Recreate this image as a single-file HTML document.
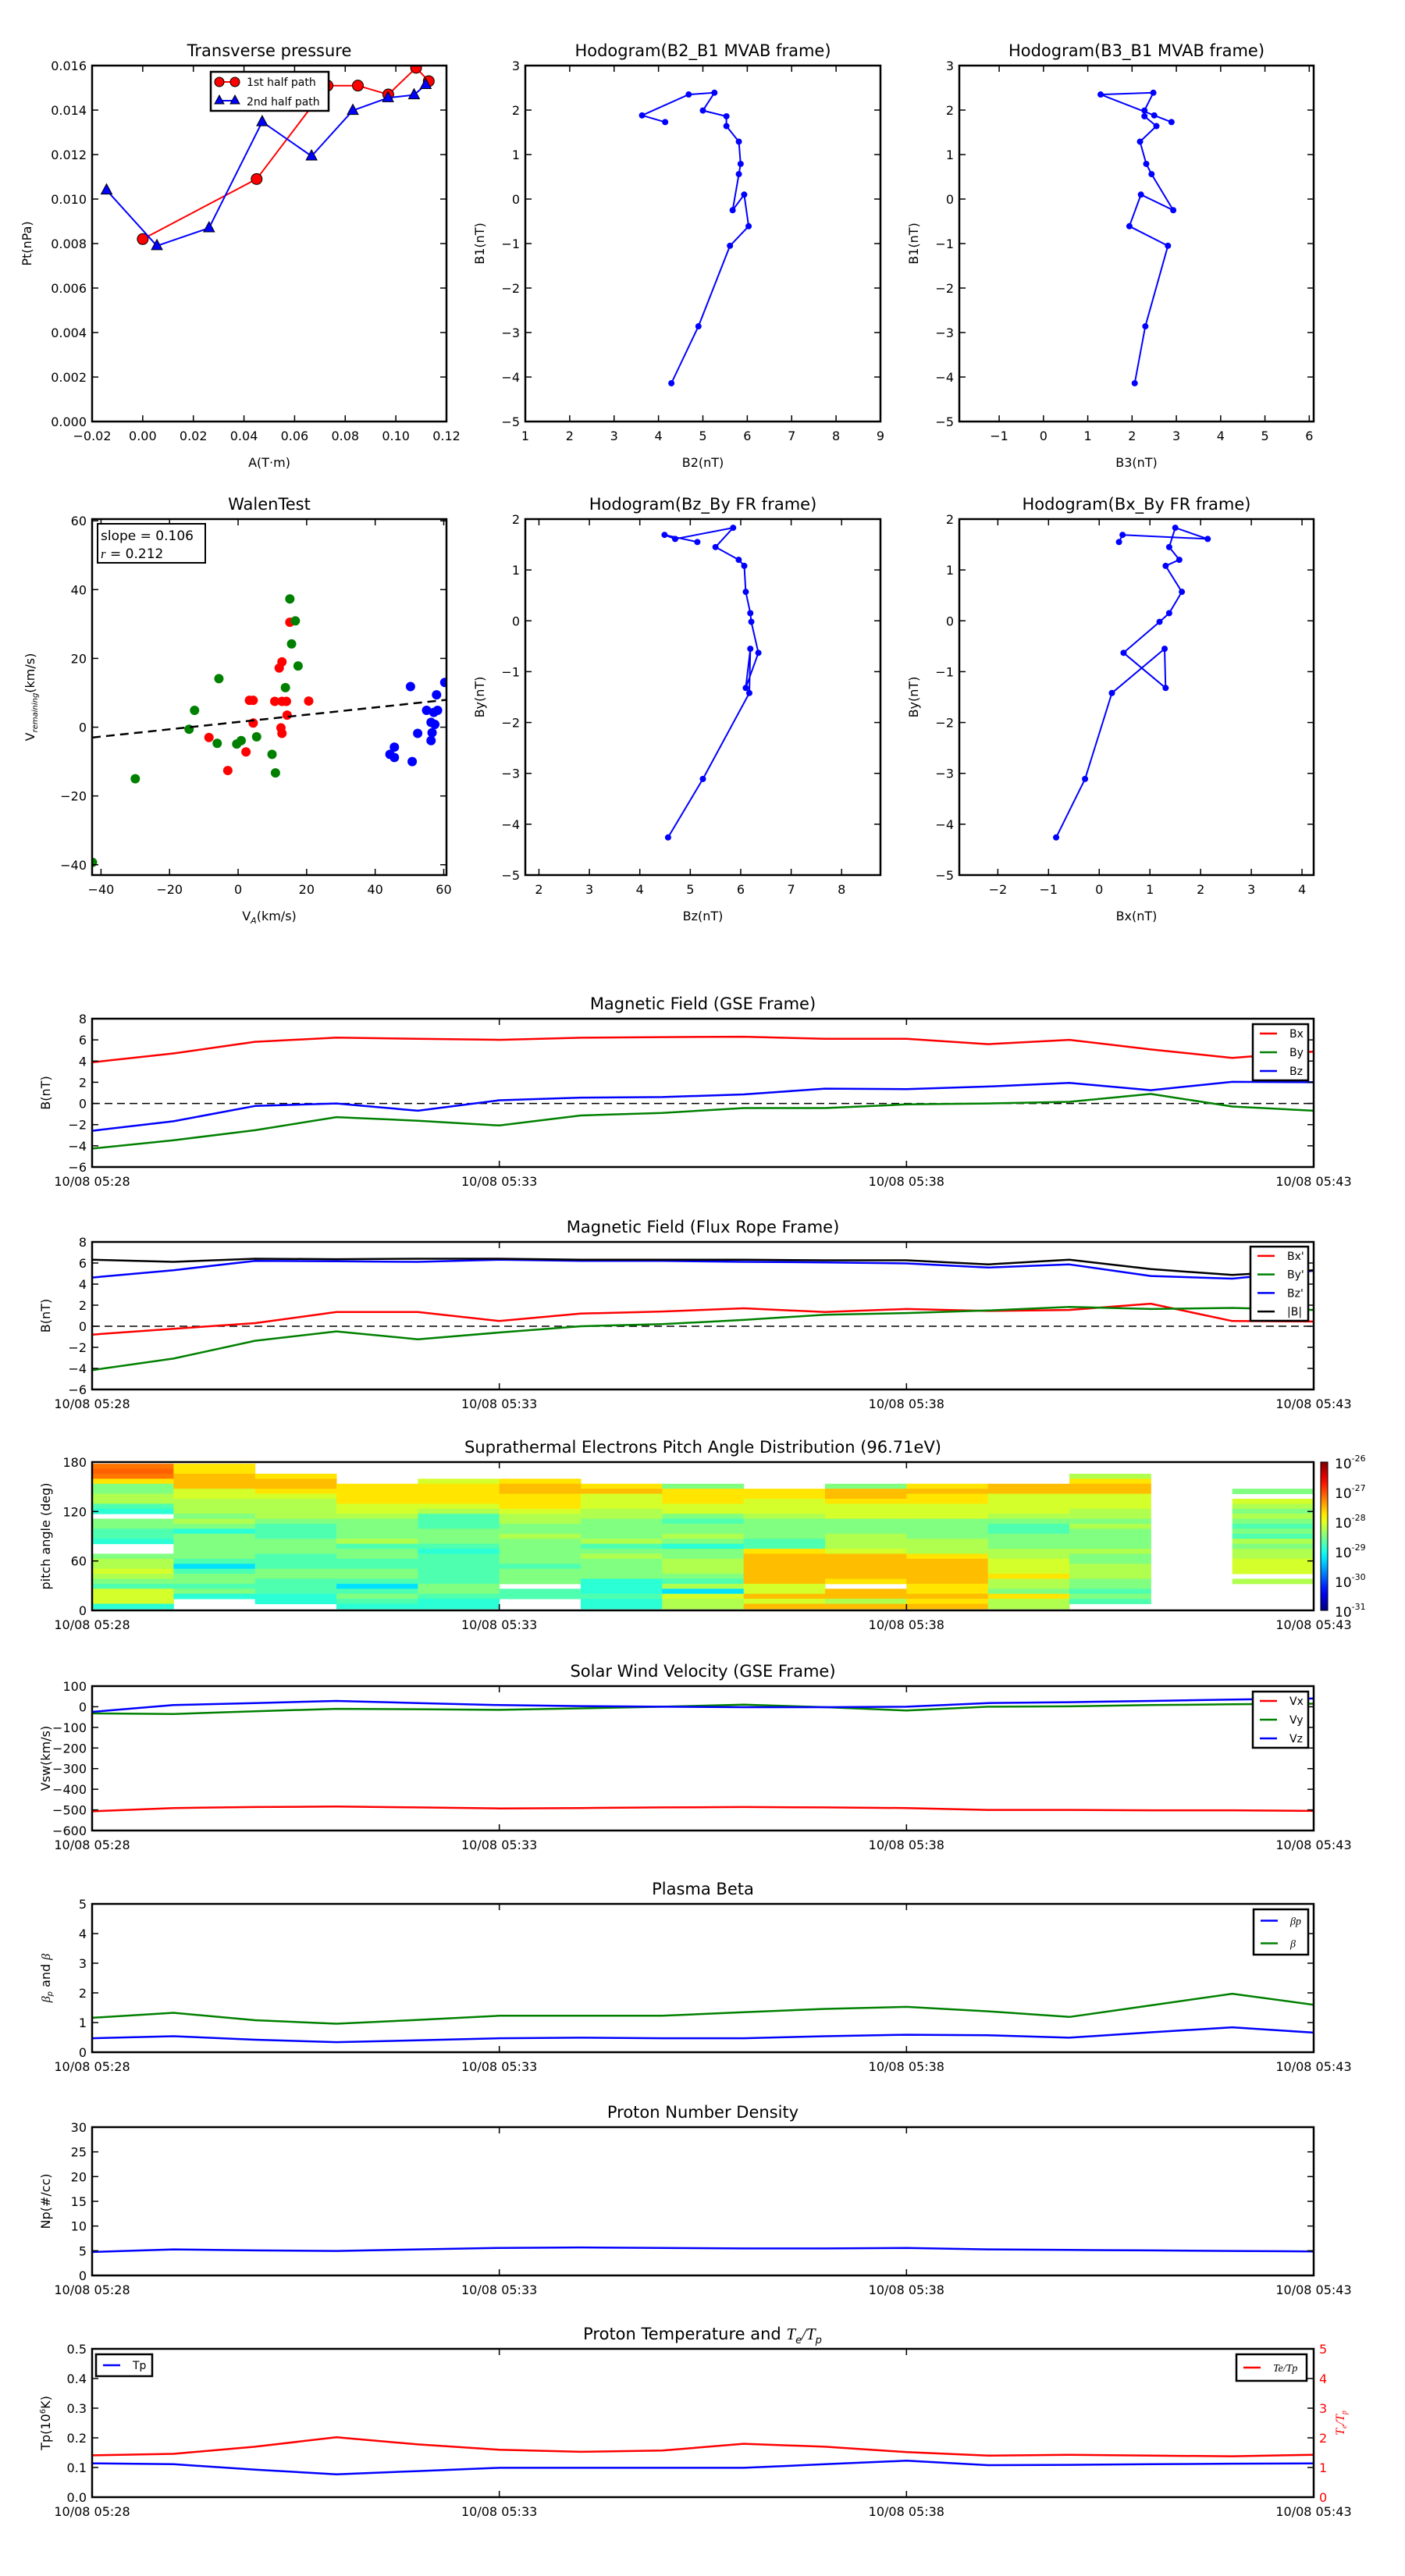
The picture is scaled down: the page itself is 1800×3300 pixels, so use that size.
<!DOCTYPE html>
<html><head><meta charset="utf-8"><title>Flux rope analysis</title>
<style>html,body{margin:0;padding:0;background:#fff}svg{display:block}</style>
</head><body>
<svg id="fig" xmlns="http://www.w3.org/2000/svg" width="1800" height="3300" viewBox="0 0 1800 3300">
<rect x="0" y="0" width="1800" height="3300" fill="#fff"/>
</svg>
<script>
// ---------- data ----------
const ptRedA = [0.000, 0.045, 0.073, 0.085, 0.097, 0.108, 0.113];
const ptRedPt = [0.0082, 0.0109, 0.0151, 0.0151, 0.0147, 0.0159, 0.0153];
const ptBlueA = [-0.0143, 0.0056, 0.0262, 0.0472, 0.0667, 0.083, 0.0969, 0.1072, 0.1118];
const ptBluePt = [0.0104, 0.0079, 0.0087, 0.01347, 0.01193, 0.01398, 0.01455, 0.01468, 0.01514];

const mvB1 = [1.73, 1.88, 2.35, 2.39, 1.99, 1.86, 1.64, 1.29, 0.79, 0.56, -0.25, 0.10, -0.61, -1.05, -2.86, -4.14];
const mvB2 = [4.15, 3.63, 4.68, 5.26, 5.0, 5.53, 5.53, 5.81, 5.85, 5.81, 5.67, 5.93, 6.03, 5.61, 4.9, 4.29];
const mvB3 = [2.89, 2.5, 1.29, 2.48, 2.28, 2.28, 2.55, 2.18, 2.32, 2.44, 2.93, 2.2, 1.94, 2.81, 2.3, 2.06];

const frBy = [1.55, 1.69, 1.61, 1.83, 1.45, 1.20, 1.08, 0.57, 0.15, -0.02, -0.63, -1.32, -0.55, -1.42, -3.11, -4.26];
const frBz = [5.14, 4.49, 4.70, 5.85, 5.5, 5.96, 6.07, 6.10, 6.19, 6.21, 6.35, 6.10, 6.19, 6.17, 5.25, 4.56];
const frBx = [0.39, 0.46, 2.14, 1.5, 1.38, 1.58, 1.31, 1.63, 1.38, 1.19, 0.48, 1.31, 1.29, 0.25, -0.28, -0.85];

const walenRedX = [15.1, 12.8, 12.0, 3.3, 4.4, 10.7, 12.8, 14.1, 20.6, 14.3, 4.4, 12.5, 12.8, -8.5, 2.3, -3.0];
const walenRedY = [30.5, 19.0, 17.2, 7.8, 7.8, 7.5, 7.5, 7.5, 7.6, 3.5, 1.2, -0.2, -1.8, -3.0, -7.2, -12.6];
const walenGreenX = [15.1, 16.7, 15.6, 17.5, 13.8, -5.6, -12.7, -14.3, -6.1, -0.4, 0.9, 5.4, 9.9, 10.9, -30, -42.5];
const walenGreenY = [37.3, 30.9, 24.2, 17.8, 11.5, 14.1, 4.9, -0.6, -4.7, -4.9, -3.9, -2.8, -7.9, -13.3, -15, -39.3];
const walenBlueX = [50.3, 57.9, 60.3, 55, 57.1, 58.2, 56.3, 57.4, 52.4, 56.6, 56.3, 45.6, 44.3, 45.6, 50.8];
const walenBlueY = [11.8, 9.4, 13, 4.9, 4.3, 4.9, 1.4, 0.8, -1.8, -1.6, -3.9, -5.8, -7.9, -8.8, -10];
const walenFit = [0.106, 1.5];

const timeMin = [0, 1, 2, 3, 4, 5, 6, 7, 8, 9, 10, 11, 12, 13, 14, 15];
const timeTickMin = [0, 5, 10, 15];
const timeTickLabels = ["10/08 05:28", "10/08 05:33", "10/08 05:38", "10/08 05:43"];

const gseBx = [3.88, 4.72, 5.82, 6.21, 6.1, 6.0, 6.2, 6.26, 6.3, 6.1, 6.1, 5.6, 6.0, 5.1, 4.3, 4.9];
const gseBy = [-4.26, -3.47, -2.53, -1.29, -1.63, -2.08, -1.14, -0.89, -0.44, -0.44, -0.09, 0.0, 0.15, 0.9, -0.29, -0.69];
const gseBz = [-2.58, -1.68, -0.24, 0.0, -0.69, 0.3, 0.55, 0.6, 0.85, 1.4, 1.35, 1.6, 1.94, 1.25, 2.04, 2.0];

const frpBx = [-0.79, -0.24, 0.30, 1.35, 1.35, 0.5, 1.2, 1.4, 1.7, 1.35, 1.64, 1.45, 1.55, 2.14, 0.5, 0.45];
const frpBy = [-4.16, -3.07, -1.38, -0.49, -1.24, -0.59, 0.0, 0.2, 0.6, 1.1, 1.25, 1.5, 1.84, 1.64, 1.74, 1.55];
const frpBz = [4.62, 5.32, 6.21, 6.16, 6.11, 6.31, 6.21, 6.21, 6.11, 6.06, 5.96, 5.57, 5.87, 4.77, 4.52, 5.27];
const frpBt = [6.31, 6.11, 6.41, 6.36, 6.41, 6.41, 6.31, 6.31, 6.31, 6.26, 6.26, 5.87, 6.31, 5.42, 4.87, 5.32];

// pitch angle distribution: one string per minute column, 29 bins from 178° down to 1°
const padCodeValues = {R: -27.1, O: -27.2, o: -27.55, Y: -27.75, y: -28.08, g: -28.26, G: -28.5, t: -28.74, c: -28.92, C: -29.27};
const padColumns = [
 "OROYGGggtc_GGttc__GggygGtyyyc",
 "YYoooyygggGgGcGGGGGtCtGGtGc__",
 "__YooYyggggGtttGGGtttGGtttcc_",
 "____YYYYyygGGGGgtGGttGGtCtGtc",
 "___yYYYYygtttGGGtcttttttGGtcc",
 "___YooYYYyggGGgGGGGGtGGG_tt__",
 "____YoyyyggGGGGgtGgGGGGccctcc",
 "____GYYYyyGtGGgGcGGgggGtgCygg",
 "_____YYyyygGGGGttYooooooyyoyo",
 "____GooYyyyGGGgggyoooooY_oogo",
 "____YoYYyyyGGGGgggYoooooYYoYo",
 "____ooyyyygGttGGGggyyyYggGYgg",
 "__gYooyyyggGgGGGGgGGgggGGtGt_",
 "_____________________________",
 "_____G_ygGgGtGtgGggyyy_g_____"
];
const padBinTop = 178, padBinHeight = 6.07;

const swVx = [-507, -491, -486, -484, -488, -493, -491, -488, -486, -488, -491, -500, -500, -502, -502, -505];
const swVy = [-32, -35, -22, -10, -12, -15, -8, 0, 10, -2, -18, 0, 2, 8, 12, 15];
const swVz = [-25, 8, 18, 28, 18, 8, 3, 0, -2, -2, 0, 18, 22, 28, 35, 40];

const betaP = [0.47, 0.54, 0.42, 0.34, 0.40, 0.47, 0.49, 0.47, 0.47, 0.54, 0.59, 0.57, 0.49, 0.67, 0.84, 0.66];
const betaAll = [1.16, 1.33, 1.08, 0.96, 1.09, 1.23, 1.23, 1.23, 1.35, 1.46, 1.53, 1.38, 1.19, 1.58, 1.97, 1.6];

const densNp = [4.76, 5.27, 5.07, 4.96, 5.27, 5.57, 5.67, 5.57, 5.47, 5.47, 5.57, 5.27, 5.17, 5.07, 4.96, 4.86];

const tempTp = [0.114, 0.111, 0.093, 0.077, 0.088, 0.099, 0.099, 0.099, 0.099, 0.111, 0.123, 0.108, 0.109, 0.111, 0.113, 0.114];
const tempRatio = [1.41, 1.46, 1.70, 2.02, 1.78, 1.60, 1.53, 1.57, 1.80, 1.70, 1.52, 1.40, 1.43, 1.40, 1.38, 1.43];

// ---------- drawing helpers ----------
const NS = 'http://www.w3.org/2000/svg';
const svg = document.getElementById('fig');
const FF = '"DejaVu Sans","Liberation Sans",sans-serif';

function mk(tag, attrs, parent) {
  const e = document.createElementNS(NS, tag);
  for (const k in attrs) e.setAttribute(k, attrs[k]);
  (parent || svg).appendChild(e);
  return e;
}
function txt(x, y, s, size, anchor, parent, extra) {
  const a = {x: x, y: y, 'font-size': size, 'text-anchor': anchor || 'middle', 'font-family': FF, fill: '#000'};
  if (extra) for (const k in extra) a[k] = extra[k];
  const e = mk('text', a, parent);
  e.textContent = s;
  return e;
}
function fmt(v, d) { return (v < -1e-12 ? '\u2212' : '') + Math.abs(v).toFixed(d); }

let clipN = 0;
function axes(c) {
  const g = mk('g', {});
  
  
  const sx = v => c.x0 + (v - c.xmin) / (c.xmax - c.xmin) * (c.x1 - c.x0);
  const sy = v => c.y1 - (v - c.ymin) / (c.ymax - c.ymin) * (c.y1 - c.y0);
  const id = 'clip' + (clipN++);
  const cp = mk('clipPath', {id: id}, g);
  mk('rect', {x: c.x0, y: c.y0, width: c.x1 - c.x0, height: c.y1 - c.y0}, cp);
  const plot = mk('g', {'clip-path': 'url(#' + id + ')'}, g);
  
  
  const fr = mk('g', {}, g);
  c.xticks.forEach((v, i) => {
    const X = sx(v);
    mk('line', {x1: X, x2: X, y1: c.y1, y2: c.y1 - 8, stroke: '#000', 'stroke-width': 1.5}, fr);
    mk('line', {x1: X, x2: X, y1: c.y0, y2: c.y0 + 8, stroke: '#000', 'stroke-width': 1.5}, fr);
    const t = txt(X, c.y1 + 24, c.xlabels[i], 16, 'middle', fr);
    
    
  });
  c.yticks.forEach((v, i) => {
    const Y = sy(v);
    mk('line', {x1: c.x0, x2: c.x0 + 8, y1: Y, y2: Y, stroke: '#000', 'stroke-width': 1.5}, fr);
    mk('line', {x1: c.x1, x2: c.x1 - 8, y1: Y, y2: Y, stroke: '#000', 'stroke-width': 1.5}, fr);
    const t = txt(c.x0 - 7, Y + 6, c.ylabels[i], 16, 'end', fr);
    
    
  });
  const rc = mk('rect', {x: c.x0, y: c.y0, width: c.x1 - c.x0, height: c.y1 - c.y0, fill: 'none', stroke: '#000', 'stroke-width': 2.5}, fr);
  
  
  const tt = txt((c.x0 + c.x1) / 2, c.y0 - 12, c.title, 21, 'middle', fr);
  
  
  if (c.xtitle) {
    const xt = txt((c.x0 + c.x1) / 2, c.y1 + 58, c.xtitle, 16, 'middle', fr);
    
    
  }
  if (c.ytitle) {
    const yx = c.ytitleX, yy = (c.y0 + c.y1) / 2;
    const yt = txt(yx, yy, c.ytitle, 16, 'middle', fr, {transform: 'rotate(-90 ' + yx + ' ' + yy + ')'});
    
    
  }
  return {sx: sx, sy: sy, plot: plot, fr: fr, c: c};
}
function line(ax, xs, ys, color, name, w) {
  const pts = xs.map((x, i) => ax.sx(x).toFixed(1) + ',' + ax.sy(ys[i]).toFixed(1)).join(' ');
  const p = mk('polyline', {points: pts, fill: 'none', stroke: color, 'stroke-width': w || 2.5, 'stroke-linejoin': 'round'}, ax.plot);
  
  
  return p;
}
function dots(ax, xs, ys, color, r, name, outline) {
  xs.forEach((x, i) => {
    const d = mk('circle', {cx: ax.sx(x), cy: ax.sy(ys[i]), r: r, fill: color, stroke: outline ? '#000' : 'none', 'stroke-width': 1}, ax.plot);
    
    
  });
}
function tris(ax, xs, ys, color, name) {
  xs.forEach((x, i) => {
    const X = ax.sx(x), Y = ax.sy(ys[i]);
    const d = mk('polygon', {points: `${X},${Y - 8} ${X - 7},${Y + 5} ${X + 7},${Y + 5}`, fill: color, stroke: '#000', 'stroke-width': 1}, ax.plot);
    
    
  });
}
function zeroLine(ax) {
  const z = mk('line', {x1: ax.c.x0, x2: ax.c.x1, y1: ax.sy(0), y2: ax.sy(0), stroke: '#000', 'stroke-width': 1.5, 'stroke-dasharray': '10,6'}, ax.plot);
  
  
}
function legend(x, y, w, h, entries, parent) {
  const g = mk('g', {}, parent);
  
  
  mk('rect', {x: x, y: y, width: w, height: h, fill: '#fff', stroke: '#000', 'stroke-width': 2.5}, g);
  const step = h / entries.length;
  entries.forEach((e, i) => {
    const Y = y + step * (i + 0.5);
    const l = mk('line', {x1: x + 9, x2: x + 31, y1: Y, y2: Y, stroke: e[0], 'stroke-width': 2.5}, g);
    
    
    const t = txt(x + 47, Y + 5, e[1], 14, 'start', g, e[2] ? {'font-style': 'italic', 'font-family': '"Liberation Serif",serif'} : {});
    
    
  });
  return g;
}
function rng(a, b, s) { const r = []; for (let v = a; v <= b + 1e-9; v += s) r.push(Math.round(v * 1e6) / 1e6); return r; }

// ---------- top row ----------
const tpY = rng(0, 0.016, 0.002), tpX = rng(-0.02, 0.12, 0.02);
const axTP = axes({name: 'transverse-pressure-chart', x0: 118, x1: 572, y0: 84, y1: 540, xmin: -0.02, xmax: 0.12, ymin: 0, ymax: 0.016,
  xticks: tpX, xlabels: tpX.map(v => fmt(v, 2)), yticks: tpY, ylabels: tpY.map(v => fmt(v, 3)),
  title: 'Transverse pressure', xtitle: 'A(T\u00b7m)', ytitle: 'Pt(nPa)', ytitleX: 40});
line(axTP, ptRedA, ptRedPt, '#ff0000', 'first-half-path-line', 2);
dots(axTP, ptRedA, ptRedPt, '#ff0000', 7, 'first-half-point', true);
line(axTP, ptBlueA, ptBluePt, '#0000ff', 'second-half-path-line', 2);
tris(axTP, ptBlueA, ptBluePt, '#0000ff', 'second-half-point');
(function () {
  const g = mk('g', {}, axTP.fr);
  
  
  mk('rect', {x: 270, y: 92, width: 151, height: 50, fill: '#fff', stroke: '#000', 'stroke-width': 2.5}, g);
  mk('line', {x1: 281, x2: 301, y1: 105, y2: 105, stroke: '#f00', 'stroke-width': 2}, g);
  mk('circle', {cx: 281, cy: 105, r: 6, fill: '#f00', stroke: '#000'}, g);
  mk('circle', {cx: 301, cy: 105, r: 6, fill: '#f00', stroke: '#000'}, g);
  mk('line', {x1: 281, x2: 301, y1: 129, y2: 129, stroke: '#00f', 'stroke-width': 2}, g);
  mk('polygon', {points: '281,122 275,133 287,133', fill: '#00f', stroke: '#000'}, g);
  mk('polygon', {points: '301,122 295,133 307,133', fill: '#00f', stroke: '#000'}, g);
  const a = txt(316, 110, '1st half path', 14, 'start', g);
  
  
  const b = txt(316, 135, '2nd half path', 14, 'start', g);
  
  
})();

const hy1 = rng(-5, 3, 1);
const axH1 = axes({name: 'hodogram-b2-b1-chart', x0: 673, x1: 1128, y0: 84, y1: 540, xmin: 1, xmax: 9, ymin: -5, ymax: 3,
  xticks: rng(1, 9, 1), xlabels: rng(1, 9, 1).map(v => fmt(v, 0)), yticks: hy1, ylabels: hy1.map(v => fmt(v, 0)),
  title: 'Hodogram(B2_B1 MVAB frame)', xtitle: 'B2(nT)', ytitle: 'B1(nT)', ytitleX: 620});
line(axH1, mvB2, mvB1, '#0000ff', 'hodogram-b2-b1-line', 2);
dots(axH1, mvB2, mvB1, '#0000ff', 4, 'hodogram-point');

const axH2 = axes({name: 'hodogram-b3-b1-chart', x0: 1229, x1: 1683, y0: 84, y1: 540, xmin: -1.9, xmax: 6.1, ymin: -5, ymax: 3,
  xticks: rng(-1, 6, 1), xlabels: rng(-1, 6, 1).map(v => fmt(v, 0)), yticks: hy1, ylabels: hy1.map(v => fmt(v, 0)),
  title: 'Hodogram(B3_B1 MVAB frame)', xtitle: 'B3(nT)', ytitle: 'B1(nT)', ytitleX: 1176});
line(axH2, mvB3, mvB1, '#0000ff', 'hodogram-b3-b1-line', 2);
dots(axH2, mvB3, mvB1, '#0000ff', 4, 'hodogram-point');

// ---------- second row ----------
const wt = rng(-40, 60, 20);
const axW = axes({name: 'walen-test-chart', x0: 118, x1: 572, y0: 665, y1: 1121, xmin: -42.6, xmax: 60.8, ymin: -43, ymax: 60.5,
  xticks: wt, xlabels: wt.map(v => fmt(v, 0)), yticks: wt, ylabels: wt.map(v => fmt(v, 0)),
  title: 'WalenTest', xtitle: '', ytitle: '', ytitleX: 40});
dots(axW, walenRedX, walenRedY, '#ff0000', 6, 'walen-red-point');
dots(axW, walenGreenX, walenGreenY, '#008000', 6, 'walen-green-point');
dots(axW, walenBlueX, walenBlueY, '#0000ff', 6, 'walen-blue-point');
(function () {
  const xa = axW.c.xmin, xb = axW.c.xmax;
  const f = mk('line', {x1: axW.sx(xa), y1: axW.sy(walenFit[0] * xa + walenFit[1]), x2: axW.sx(xb), y2: axW.sy(walenFit[0] * xb + walenFit[1]), stroke: '#000', 'stroke-width': 2.5, 'stroke-dasharray': '11,7'}, axW.plot);
  
  
  const g = mk('g', {}, axW.fr);
  
  
  mk('rect', {x: 125, y: 671, width: 138, height: 50, fill: '#fff', stroke: '#000', 'stroke-width': 2}, g);
  const a = txt(129, 692, 'slope = ' + walenFit[0].toFixed(3), 17, 'start', g);
  
  
  const b = mk('text', {x: 129, y: 715, 'font-size': 17, 'font-family': FF}, g);
  
  
  b.innerHTML = '<tspan font-style="italic" font-family="Liberation Serif,serif">r</tspan> = 0.212';
  const xt = mk('text', {x: 345, y: 1179, 'font-size': 16, 'font-family': FF, 'text-anchor': 'middle'}, axW.fr);
  
  
  xt.innerHTML = 'V<tspan font-size="11" dy="4" font-style="italic">A</tspan><tspan dy="-4">(km/s)</tspan>';
  const yt = mk('text', {x: 44, y: 893, 'font-size': 16, 'font-family': FF, 'text-anchor': 'middle', transform: 'rotate(-90 44 893)'}, axW.fr);
  
  
  yt.innerHTML = 'V<tspan font-size="10" dy="4" font-style="italic">remaining</tspan><tspan dy="-4">(km/s)</tspan>';
})();

const hy2 = rng(-5, 2, 1);
const axH3 = axes({name: 'hodogram-bz-by-chart', x0: 673, x1: 1128, y0: 665, y1: 1121, xmin: 1.73, xmax: 8.77, ymin: -5, ymax: 2,
  xticks: rng(2, 8, 1), xlabels: rng(2, 8, 1).map(v => fmt(v, 0)), yticks: hy2, ylabels: hy2.map(v => fmt(v, 0)),
  title: 'Hodogram(Bz_By FR frame)', xtitle: 'Bz(nT)', ytitle: 'By(nT)', ytitleX: 620});
line(axH3, frBz, frBy, '#0000ff', 'hodogram-bz-by-line', 2);
dots(axH3, frBz, frBy, '#0000ff', 4, 'hodogram-point');

const axH4 = axes({name: 'hodogram-bx-by-chart', x0: 1229, x1: 1683, y0: 665, y1: 1121, xmin: -2.76, xmax: 4.23, ymin: -5, ymax: 2,
  xticks: rng(-2, 4, 1), xlabels: rng(-2, 4, 1).map(v => fmt(v, 0)), yticks: hy2, ylabels: hy2.map(v => fmt(v, 0)),
  title: 'Hodogram(Bx_By FR frame)', xtitle: 'Bx(nT)', ytitle: 'By(nT)', ytitleX: 1176});
line(axH4, frBx, frBy, '#0000ff', 'hodogram-bx-by-line', 2);
dots(axH4, frBx, frBy, '#0000ff', 4, 'hodogram-point');

// ---------- time series ----------
function tAxes(name, y0, y1, ymin, ymax, yticks, ylabels, title, ytitle) {
  return axes({name: name, x0: 118, x1: 1683, y0: y0, y1: y1, xmin: 0, xmax: 15, ymin: ymin, ymax: ymax,
    xticks: timeTickMin, xlabels: timeTickLabels, yticks: yticks, ylabels: ylabels, title: title, xtitle: '', ytitle: ytitle, ytitleX: 64});
}
const bT = rng(-6, 8, 2);
const axG = tAxes('magnetic-field-gse-chart', 1305, 1495, -6, 8, bT, bT.map(v => fmt(v, 0)), 'Magnetic Field (GSE Frame)', 'B(nT)');
zeroLine(axG);
line(axG, timeMin, gseBx, '#ff0000', 'bx-line');
line(axG, timeMin, gseBy, '#008000', 'by-line');
line(axG, timeMin, gseBz, '#0000ff', 'bz-line');
legend(1605, 1312, 71, 72, [['#f00', 'Bx'], ['#008000', 'By'], ['#00f', 'Bz']], axG.fr);

const axF = tAxes('magnetic-field-flux-rope-chart', 1591, 1780, -6, 8, bT, bT.map(v => fmt(v, 0)), 'Magnetic Field (Flux Rope Frame)', 'B(nT)');
zeroLine(axF);
line(axF, timeMin, frpBx, '#ff0000', 'bx-prime-line');
line(axF, timeMin, frpBy, '#008000', 'by-prime-line');
line(axF, timeMin, frpBz, '#0000ff', 'bz-prime-line');
line(axF, timeMin, frpBt, '#000000', 'b-total-line');
legend(1602, 1597, 74, 95, [['#f00', "Bx'"], ['#008000', "By'"], ['#00f', "Bz'"], ['#000', '|B|']], axF.fr);

// PAD heatmap
function jet(v) {
  const t = Math.max(0, Math.min(1, (v + 31) / 5));
  const cl = x => Math.round(255 * Math.max(0, Math.min(1, x)));
  return `rgb(${cl(1.5 - Math.abs(4 * t - 3))},${cl(1.5 - Math.abs(4 * t - 2))},${cl(1.5 - Math.abs(4 * t - 1))})`;
}
const padT = [0, 60, 120, 180];
const axP = tAxes('pitch-angle-distribution-chart', 1873, 2063, 0, 180, padT, padT.map(v => String(v)), 'Suprathermal Electrons Pitch Angle Distribution (96.71eV)', 'pitch angle (deg)');
padColumns.forEach((col, ci) => {
  for (let r = 0; r < col.length; r++) {
    const code = col[r];
    if (!(code in padCodeValues)) continue;
    const top = padBinTop - r * padBinHeight;
    const x0 = axP.sx(timeMin[ci]), x1 = axP.sx(timeMin[ci + 1]);
    const y0 = axP.sy(top), y1 = axP.sy(top - padBinHeight);
    const cell = mk('rect', {x: x0, y: y0, width: x1 - x0 + 0.5, height: y1 - y0 + 0.5, fill: jet(padCodeValues[code])}, axP.plot);
    
    
  }
});
(function () {
  const g = mk('g', {});
  
  
  const defs = mk('defs', {}, g);
  const lg = mk('linearGradient', {id: 'jetgrad', x1: 0, y1: 1, x2: 0, y2: 0}, defs);
  for (let i = 0; i <= 20; i++) mk('stop', {offset: i / 20, 'stop-color': jet(-31 + 5 * i / 20)}, lg);
  mk('rect', {x: 1692, y: 1873, width: 9, height: 190, fill: 'url(#jetgrad)', stroke: '#000', 'stroke-width': 1}, g);
  for (let i = 0; i <= 5; i++) {
    const Y = 2063 - i * 38;
    const t = mk('text', {x: 1710, y: Y + 8, 'font-size': 17, 'font-family': FF}, g);
    
    
    t.innerHTML = '10<tspan font-size="11" dy="-9">-' + (31 - i) + '</tspan>';
  }
})();

const swT = rng(-600, 100, 100);
const axS = tAxes('solar-wind-velocity-chart', 2160, 2345, -600, 100, swT, swT.map(v => fmt(v, 0)), 'Solar Wind Velocity (GSE Frame)', 'Vsw(km/s)');
line(axS, timeMin, swVx, '#ff0000', 'vx-line');
line(axS, timeMin, swVy, '#008000', 'vy-line');
line(axS, timeMin, swVz, '#0000ff', 'vz-line');
legend(1605, 2167, 71, 72, [['#f00', 'Vx'], ['#008000', 'Vy'], ['#00f', 'Vz']], axS.fr);

const btT = rng(0, 5, 1);
const axB = tAxes('plasma-beta-chart', 2439, 2629, 0, 5, btT, btT.map(v => fmt(v, 0)), 'Plasma Beta', '');
line(axB, timeMin, betaP, '#0000ff', 'beta-proton-line');
line(axB, timeMin, betaAll, '#008000', 'beta-total-line');
legend(1606, 2446, 70, 58, [['#00f', '\u03b2p', 1], ['#008000', '\u03b2', 1]], axB.fr);
(function () {
  const yt = mk('text', {x: 64, y: 2534, 'font-size': 16, 'font-family': FF, 'text-anchor': 'middle', transform: 'rotate(-90 64 2534)'}, axB.fr);
  
  
  yt.innerHTML = '<tspan font-style="italic" font-family="Liberation Serif,serif">\u03b2</tspan><tspan font-size="10" dy="3" font-style="italic">p</tspan><tspan dy="-3"> and </tspan><tspan font-style="italic" font-family="Liberation Serif,serif">\u03b2</tspan>';
})();

const npT = rng(0, 30, 5);
const axN = tAxes('proton-density-chart', 2725, 2915, 0, 30, npT, npT.map(v => fmt(v, 0)), 'Proton Number Density', 'Np(#/cc)');
line(axN, timeMin, densNp, '#0000ff', 'np-line');

const tpT = rng(0, 0.5, 0.1);
const axTm = tAxes('proton-temperature-chart', 3009, 3199, 0, 0.5, tpT, tpT.map(v => fmt(v, 1)), '', '');
line(axTm, timeMin, tempTp, '#0000ff', 'tp-line');
(function () {
  const rsy = v => 3199 - v / 5 * 190;
  const pts = timeMin.map((t, i) => axTm.sx(t).toFixed(1) + ',' + rsy(tempRatio[i]).toFixed(1)).join(' ');
  const p = mk('polyline', {points: pts, fill: 'none', stroke: '#ff0000', 'stroke-width': 2.5}, axTm.plot);
  
  
  for (let v = 0; v <= 5; v++) {
    const t = txt(1690, rsy(v) + 6, String(v), 16, 'start', axTm.fr, {fill: '#f00'});
    
    
  }
  const ttl = mk('text', {x: 900, y: 2997, 'font-size': 21, 'font-family': FF, 'text-anchor': 'middle'}, axTm.fr);
  
  
  ttl.innerHTML = 'Proton Temperature and <tspan font-style="italic" font-family="Liberation Serif,serif">T</tspan><tspan font-size="13" dy="5" font-style="italic">e</tspan><tspan dy="-5" font-style="italic" font-family="Liberation Serif,serif">/T</tspan><tspan font-size="13" dy="5" font-style="italic">p</tspan>';
  const yl = mk('text', {x: 64, y: 3104, 'font-size': 16, 'font-family': FF, 'text-anchor': 'middle', transform: 'rotate(-90 64 3104)'}, axTm.fr);
  
  
  yl.innerHTML = 'Tp(10<tspan font-size="10" dy="-6">6</tspan><tspan dy="6">K)</tspan>';
  const yr = mk('text', {x: 1722, y: 3104, 'font-size': 16, 'font-family': 'Liberation Serif,serif', 'font-style': 'italic', fill: '#f00', 'text-anchor': 'middle', transform: 'rotate(-90 1722 3104)'}, axTm.fr);
  
  
  yr.innerHTML = 'T<tspan font-size="10" dy="3">e</tspan><tspan dy="-3">/T</tspan><tspan font-size="10" dy="3">p</tspan>';
})();
legend(123, 3016, 72, 28, [['#00f', 'Tp']], axTm.fr);
legend(1584, 3016, 90, 34, [['#f00', 'Te/Tp', 1]], axTm.fr);
</script>
</body></html>
